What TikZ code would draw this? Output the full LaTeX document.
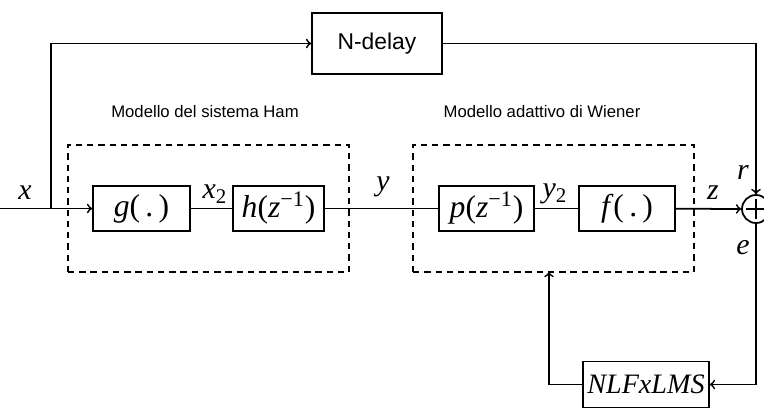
\documentclass[tikz,border=0pt]{standalone}
\usepackage{fontspec}
\setmainfont{Liberation Serif}
\setsansfont{Liberation Sans}
\usetikzlibrary{arrows, positioning}

\begin{document}
\begin{tikzpicture}[
    line width=1pt,
    >=to,
    block/.style={rectangle, draw, inner sep=0pt, minimum height=0.9cm, font=\fontsize{18}{20}\selectfont},
    sig/.style={font=\fontsize{17}{19}\selectfont\itshape},
    frame/.style={rectangle, draw, dash pattern=on 3.6pt off 2.8pt, minimum width=5.62cm, minimum height=2.54cm},
    caption/.style={font=\sffamily\fontsize{9.5}{11}\selectfont}
]
\useasboundingbox (0,0) rectangle (15.28,8.16);

% dashed model frames
\node[frame] (hamframe) at (4.17, 3.99) {};
\node[frame] (wienerframe) at (11.07, 3.99) {};
\node[caption] (hamcap) at (4.1, 5.92) {Modello del sistema Ham};
\node[caption] (wienercap) at (10.84, 5.92) {Modello adattivo di Wiener};

% blocks
\node[block, minimum width=2.6cm, minimum height=1.22cm, font=\sffamily\fontsize{13}{15}\selectfont] (delay) at (7.54, 7.29) {N-delay};
\node[block, minimum width=1.94cm] (g) at (2.83, 3.99) {\textit{g}(\,.\,)};
\node[block, minimum width=1.82cm] (h) at (5.57, 3.99) {\textit{h}(\textit{z}\textsuperscript{−1})};
\node[block, minimum width=1.9cm] (p) at (9.73, 3.99) {\textit{p}(\textit{z}\textsuperscript{−1})};
\node[block, minimum width=1.92cm] (f) at (12.54, 3.99) {\textit{f}(\,.\,)};
\node[block, minimum width=2.52cm, minimum height=0.92cm, font=\fontsize{16}{18}\selectfont\itshape] (nlf) at (12.92, 0.47) {NLFxLMS};
\node[circle, draw, inner sep=0pt, minimum size=0.56cm] (sum) at (15.12, 3.98) {};
\draw[line width=1.6pt] ([yshift=0.2cm]sum.center) -- ([yshift=-0.2cm]sum.center);
\draw[line width=1.6pt] ([xshift=-0.2cm]sum.center) -- ([xshift=0.2cm]sum.center);

% signal labels
\node[sig] (xlab) at (0.5, 4.3) {x};
\node[sig] (x2lab) at (4.3, 4.28) {x\textsubscript{\upshape 2}};
\node[sig] (ylab) at (7.66, 4.42) {y};
\node[sig] (y2lab) at (11.1, 4.28) {y\textsubscript{\upshape 2}};
\node[sig] (zlab) at (14.26, 4.3) {z};
\node[sig] (rlab) at (14.86, 4.72) {r};
\node[sig] (elab) at (14.86, 3.2) {e};

% connections
\coordinate (in) at (0, 3.99);
\coordinate (split) at (1.02, 3.99);
\coordinate (fb) at (10.98, 2.72);
\draw (in) -- (split);
\draw[->] (split) -- (g.west);
\draw[->] (split) |- (delay.west);
\draw (g) -- (h);
\draw (h) -- (p);
\draw (p) -- (f);
\draw[->] (f) -- (sum.west);
\draw[->] (delay.east) -| (sum.north);
\draw[->] (sum.south) |- (nlf.east);
\draw[->] (nlf.west) -| (fb);

\end{tikzpicture}
\end{document}
